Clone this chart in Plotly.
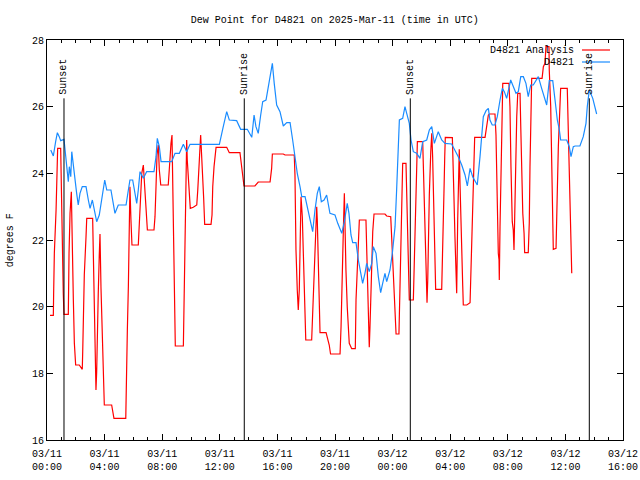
import pandas as pd
import plotly.graph_objects as go

BASE = pd.Timestamp("2025-03-11 00:00")

# ---- Data (hours after 03/11 00:00 UTC, dew point in deg F) ----
obs_hours = [0.26, 0.44, 0.60, 0.72, 0.85, 0.95, 1.18, 1.37, 1.48, 1.55, 1.65, 1.72, 1.83, 1.94,
             2.06, 2.17, 2.29, 2.45, 2.71, 2.87, 2.99, 3.15, 3.28, 3.45, 3.63, 3.80, 4.01, 4.15,
             4.44, 4.60, 4.72, 4.95, 5.49, 5.65, 5.76, 5.95, 6.06, 6.23, 6.34, 6.46, 6.69, 6.92,
             7.43, 7.57, 7.66, 7.80, 7.92, 8.66, 8.89, 9.19, 9.47, 9.70, 9.93, 11.97, 12.24,
             12.48, 12.66, 13.17, 13.45, 13.91, 14.22, 14.38, 14.51, 14.67, 14.84, 14.98, 15.21,
             15.37, 15.53, 15.65, 15.78, 15.95, 16.18, 16.41, 16.65, 16.88, 17.06, 17.22, 17.38,
             17.57, 17.69, 17.92, 18.15, 18.31, 18.45, 18.61, 18.77, 18.91, 19.05, 19.24, 19.42,
             19.65, 20.00, 20.19, 20.47, 20.65, 20.85, 20.97, 21.11, 21.23, 21.46, 21.62, 21.78,
             21.92, 22.08, 22.20, 22.38, 22.55, 22.66, 22.85, 23.01, 23.17, 23.31, 23.47, 23.59,
             23.82, 23.98, 24.17, 24.28, 24.40, 24.47, 24.70, 24.86, 24.98, 25.16, 25.28, 25.44,
             25.67, 25.90, 26.09, 26.37, 26.55, 26.72, 26.90, 27.17, 27.41, 27.64, 28.10, 28.33,
             28.56, 28.80, 29.03, 29.19, 29.38, 29.56, 29.88, 30.07, 30.19, 30.30, 30.49, 30.65,
             30.76, 30.92, 31.11, 31.27, 31.46, 31.62, 31.76, 31.92, 32.20, 32.38, 32.57, 32.73,
             32.90, 33.08, 33.26, 33.42, 33.59, 33.77, 34.12, 34.35, 34.58, 34.70, 34.88, 35.12,
             35.28, 35.44, 35.58, 35.67, 36.09, 36.27, 36.39, 36.55, 36.67, 37.01, 37.24, 37.43,
             37.52, 37.66, 37.90, 38.06, 38.17]
obs_dewpt = [24.70, 24.52, 24.95, 25.22, 25.10, 24.98, 25.02, 24.20, 23.75, 24.20, 23.90, 24.65,
             24.20, 23.70, 23.40, 23.05, 23.40, 23.60, 23.60, 23.20, 22.95, 23.20, 22.90, 22.55,
             22.75, 23.20, 23.80, 23.50, 23.50, 23.10, 22.80, 23.05, 23.05, 23.50, 23.80, 23.80,
             23.50, 23.10, 23.50, 24.05, 23.85, 24.05, 24.05, 24.50, 25.05, 24.80, 24.35, 24.35,
             24.60, 24.60, 24.87, 24.65, 24.87, 24.87, 25.40, 25.85, 25.60, 25.58, 25.32, 25.32,
             25.08, 25.75, 25.40, 25.20, 25.75, 26.15, 26.20, 26.60, 27.10, 27.30, 26.70, 26.05,
             25.85, 25.42, 25.52, 25.52, 25.00, 24.50, 24.00, 23.60, 23.30, 23.30, 22.80, 22.50,
             22.25, 22.90, 23.40, 23.60, 23.15, 23.20, 23.35, 22.80, 22.75, 22.50, 22.20, 22.55,
             23.10, 22.80, 22.15, 21.92, 21.92, 21.40, 21.00, 20.70, 21.00, 21.30, 21.05, 21.30,
             21.80, 21.60, 20.90, 20.42, 20.70, 21.00, 20.75, 21.10, 21.60, 22.40, 23.50, 24.70,
             25.60, 25.65, 26.00, 25.80, 25.50, 25.00, 24.65, 24.60, 24.45, 24.95, 25.00, 25.30,
             25.40, 24.90, 25.25, 25.00, 24.90, 24.88, 24.70, 24.50, 24.25, 23.95, 23.62, 24.15,
             23.90, 23.65, 24.50, 25.10, 25.70, 25.88, 25.95, 25.60, 25.45, 25.45, 25.70, 26.20,
             26.55, 26.45, 26.25, 26.80, 26.60, 26.40, 26.45, 26.90, 26.90, 26.70, 26.30, 26.65,
             26.65, 26.90, 26.55, 26.20, 26.05, 26.78, 26.78, 26.20, 25.60, 25.30, 25.00, 25.00,
             24.80, 24.50, 24.80, 24.82, 24.82, 25.10, 25.50, 26.00, 26.50, 26.25, 26.00, 25.78]

ana_hours = [0.21, 0.44, 0.46, 0.51, 0.63, 0.67, 0.74, 0.95, 0.97, 1.06, 1.09, 1.13, 1.18, 1.48,
             1.53, 1.60, 1.69, 1.74, 1.83, 1.90, 1.99, 2.24, 2.45, 2.48, 2.52, 2.59, 2.71, 2.76,
             3.17, 3.22, 3.28, 3.33, 3.40, 3.45, 3.49, 3.56, 3.63, 3.68, 3.75, 3.84, 3.91, 3.98,
             4.49, 4.65, 5.47, 5.49, 5.58, 5.65, 5.72, 5.76, 5.83, 5.90, 6.34, 6.41, 6.48, 6.58,
             6.69, 6.74, 6.81, 6.88, 6.97, 7.43, 7.50, 7.57, 7.64, 7.73, 7.80, 7.90, 8.42, 8.49,
             8.54, 8.61, 8.68, 8.73, 8.77, 8.84, 8.91, 9.47, 9.51, 9.58, 9.63, 9.70, 9.74, 9.81,
             9.88, 9.95, 10.16, 10.40, 10.47, 10.53, 10.58, 10.67, 10.74, 10.81, 10.88, 10.95,
             11.39, 11.46, 11.51, 11.60, 11.67, 11.74, 12.48, 12.66, 13.40, 13.52, 13.59, 13.68,
             14.44, 14.67, 15.49, 15.60, 15.65, 16.41, 16.53, 17.17, 17.22, 17.29, 17.38, 17.45,
             17.52, 17.57, 17.64, 17.73, 17.80, 17.87, 17.97, 18.38, 18.45, 18.54, 18.61, 18.68,
             18.73, 18.77, 18.84, 18.91, 18.96, 19.38, 19.49, 19.60, 19.69, 20.35, 20.42, 20.49,
             20.58, 20.65, 20.69, 20.76, 20.85, 20.92, 20.99, 21.16, 21.41, 21.46, 21.55, 21.65,
             21.69, 22.15, 22.20, 22.27, 22.34, 22.38, 22.43, 22.48, 22.57, 22.62, 22.71, 23.47,
             23.59, 23.87, 23.94, 24.01, 24.10, 24.17, 24.24, 24.44, 24.47, 24.56, 24.63, 24.70,
             24.93, 24.98, 25.05, 25.09, 25.16, 25.44, 25.49, 25.58, 25.63, 25.72, 26.09, 26.13,
             26.20, 26.27, 26.32, 26.39, 26.44, 26.48, 26.55, 26.65, 26.72, 26.78, 26.83, 26.90,
             26.94, 26.99, 27.41, 27.45, 27.50, 27.57, 27.62, 27.66, 28.15, 28.17, 28.26, 28.33,
             28.38, 28.45, 28.52, 28.59, 28.63, 28.68, 28.75, 28.82, 28.87, 28.91, 29.15, 29.38,
             29.44, 29.51, 29.56, 29.63, 29.70, 30.42, 30.49, 30.65, 30.72, 31.11, 31.18, 31.23,
             31.27, 31.34, 31.39, 31.41, 31.46, 31.53, 31.60, 31.65, 32.08, 32.15, 32.22, 32.31,
             32.38, 32.43, 32.48, 32.55, 32.62, 32.69, 32.85, 32.90, 32.97, 33.04, 33.13, 33.17,
             33.42, 33.49, 33.54, 33.59, 33.66, 34.38, 34.47, 34.58, 34.65, 34.86, 34.88, 34.98,
             35.05, 35.12, 35.16, 35.35, 35.40, 35.44, 35.51, 35.58, 35.67, 36.13, 36.25, 36.30,
             36.37, 36.44]
ana_dewpt = [19.74, 19.74, 20.35, 21.60, 22.90, 24.10, 24.75, 24.75, 24.10, 22.85, 21.65, 20.40,
             19.77, 19.77, 21.60, 22.80, 23.45, 21.60, 20.20, 18.90, 18.25, 18.25, 18.12, 18.65,
             19.85, 20.95, 22.10, 22.65, 22.65, 21.50, 20.10, 18.35, 17.50, 18.05, 19.20, 20.40,
             21.55, 22.18, 20.55, 18.90, 17.65, 17.05, 17.05, 16.65, 16.65, 17.50, 19.30, 20.60,
             22.35, 23.60, 22.60, 21.85, 21.85, 22.50, 23.40, 24.00, 24.25, 23.85, 23.40, 22.90,
             22.30, 22.30, 22.70, 23.60, 24.55, 24.85, 24.10, 23.65, 23.65, 24.10, 24.60, 24.90,
             25.15, 23.80, 22.00, 19.90, 18.82, 18.82, 19.85, 21.90, 23.50, 25.00, 24.40, 23.80,
             23.20, 22.95, 22.98, 23.05, 23.50, 23.85, 24.40, 25.15, 24.60, 23.85, 23.25, 22.47,
             22.47, 22.75, 23.60, 24.20, 24.50, 24.78, 24.78, 24.62, 24.62, 24.25, 23.95, 23.62,
             23.62, 23.74, 23.74, 24.15, 24.58, 24.58, 24.55, 24.55, 23.95, 21.70, 20.50, 19.90,
             20.50, 21.70, 23.30, 22.70, 21.60, 20.10, 19.00, 19.00, 19.90, 20.60, 21.50, 22.50,
             23.00, 22.60, 21.50, 20.60, 19.22, 19.22, 19.05, 18.85, 18.58, 18.58, 19.40, 21.00,
             22.30, 23.40, 22.30, 21.10, 20.00, 19.20, 18.90, 18.74, 18.74, 20.20, 21.15, 22.00,
             22.60, 22.60, 21.80, 20.70, 19.50, 18.78, 19.40, 20.50, 21.50, 22.25, 22.78, 22.78,
             22.72, 22.70, 22.00, 21.30, 20.50, 19.60, 19.18, 19.18, 20.00, 21.50, 22.90, 24.30,
             24.30, 23.20, 22.10, 20.70, 20.20, 20.20, 21.10, 22.70, 23.80, 24.95, 24.95, 24.20,
             23.20, 22.10, 21.40, 20.12, 20.80, 22.10, 23.35, 24.65, 25.20, 24.50, 23.30, 22.10,
             21.30, 20.52, 20.52, 21.10, 22.20, 23.50, 24.50, 25.08, 25.07, 24.50, 23.30, 22.10,
             21.00, 20.40, 22.60, 24.10, 24.72, 23.70, 22.80, 21.80, 20.62, 20.05, 20.05, 20.12,
             21.00, 22.00, 23.20, 24.45, 25.08, 25.08, 25.30, 25.75, 25.78, 25.78, 25.15, 24.00,
             22.70, 21.60, 21.40, 20.80, 22.40, 23.75, 25.60, 26.70, 26.70, 26.00, 24.20, 22.55,
             22.30, 21.70, 22.70, 24.50, 25.70, 26.40, 26.40, 25.40, 24.00, 22.80, 22.20, 21.62,
             21.62, 22.50, 24.20, 25.95, 26.85, 26.85, 27.20, 27.30, 27.80, 27.80, 27.10, 26.00,
             24.00, 22.50, 21.72, 21.75, 22.40, 23.50, 24.80, 25.70, 26.55, 26.55, 24.40, 23.10,
             21.70, 21.00]

sun_hours = [1.18, 13.70, 25.23, 37.66]
sun_labels = ["Sunset", "Sunrise", "Sunset", "Sunrise"]

tick_hours = [0, 4, 8, 12, 16, 20, 24, 28, 32, 36, 40]
tick_labels = ["03/11<br>00:00", "03/11<br>04:00", "03/11<br>08:00", "03/11<br>12:00",
               "03/11<br>16:00", "03/11<br>20:00", "03/12<br>00:00", "03/12<br>04:00",
               "03/12<br>08:00", "03/12<br>12:00", "03/12<br>16:00"]

series_names = ["D4821 Analysis", "D4821"]
series_colors = ["#ff0000", "#1a8cff"]


def to_time(hours):
    return [BASE + pd.Timedelta(hours=h) for h in hours]


FONT = "Liberation Mono"
LW = 1.2
fig = go.Figure()
fig.add_trace(go.Scatter(x=to_time(ana_hours), y=ana_dewpt, mode="lines",
                         line=dict(color=series_colors[0], width=LW), name=series_names[0]))
fig.add_trace(go.Scatter(x=to_time(obs_hours), y=obs_dewpt, mode="lines",
                         line=dict(color=series_colors[1], width=LW), name=series_names[1]))

for h, lab in zip(sun_hours, sun_labels):
    t = BASE + pd.Timedelta(hours=h)
    fig.add_shape(type="line", xref="x", yref="y", x0=t, x1=t, y0=16, y1=26.25,
                  line=dict(color="black", width=1))
    fig.add_annotation(x=t, y=26.3, xref="x", yref="y", text=lab, textangle=-90,
                       showarrow=False, xanchor="center", yanchor="bottom",
                       font=dict(family=FONT, size=10, color="black"))

# manual legend (gnuplot style: text right-aligned, sample to the right)
leg_y = [0.975, 0.945]
for name, col, ly in zip(series_names, series_colors, leg_y):
    fig.add_annotation(x=0.918, y=ly, xref="paper", yref="paper", text=name, showarrow=False,
                       xanchor="right", yanchor="middle",
                       font=dict(family=FONT, size=10, color="black"))
    fig.add_shape(type="line", xref="paper", yref="paper", x0=0.9288, x1=0.9774, y0=ly, y1=ly,
                  line=dict(color=col, width=LW))

fig.add_annotation(x=-0.064, y=0.5, xref="paper", yref="paper", text="degrees F",
                   textangle=-90, showarrow=False, xanchor="center", yanchor="middle",
                   font=dict(family=FONT, size=10, color="black"))

fig.update_layout(
    width=640, height=480,
    margin=dict(l=47, r=17, t=40, b=40, autoexpand=False),
    paper_bgcolor="white", plot_bgcolor="white",
    showlegend=False,
    font=dict(family=FONT, size=10, color="black"),
    title=dict(text="Dew Point for D4821 on 2025-Mar-11 (time in UTC)", x=0.523, xanchor="center",
               y=1 - 19 / 480, yanchor="middle", font=dict(family=FONT, size=10, color="black")),
    xaxis=dict(type="date", range=[BASE, BASE + pd.Timedelta(hours=40)], automargin=False,
               tickvals=to_time(tick_hours), ticktext=tick_labels, ticklabelstandoff=4,
               ticks="inside", ticklen=6, tickcolor="black", showline=True, linecolor="black",
               linewidth=1, mirror="ticks", showgrid=False, zeroline=False,
               minor=dict(ticks="inside", ticklen=3, tickcolor="black",
                          dtick=3600000, showgrid=False)),
    yaxis=dict(range=[16, 28], tickvals=[16, 18, 20, 22, 24, 26, 28], ticks="inside",
               automargin=False,
               ticklen=6, tickcolor="black", showline=True, linecolor="black", linewidth=1,
               mirror="ticks", showgrid=False, zeroline=False),
)

fig.write_html("out.html", config={"displayModeBar": False, "staticPlot": True},
               post_script="document.body.style.margin='0';document.body.style.overflow='hidden';")
